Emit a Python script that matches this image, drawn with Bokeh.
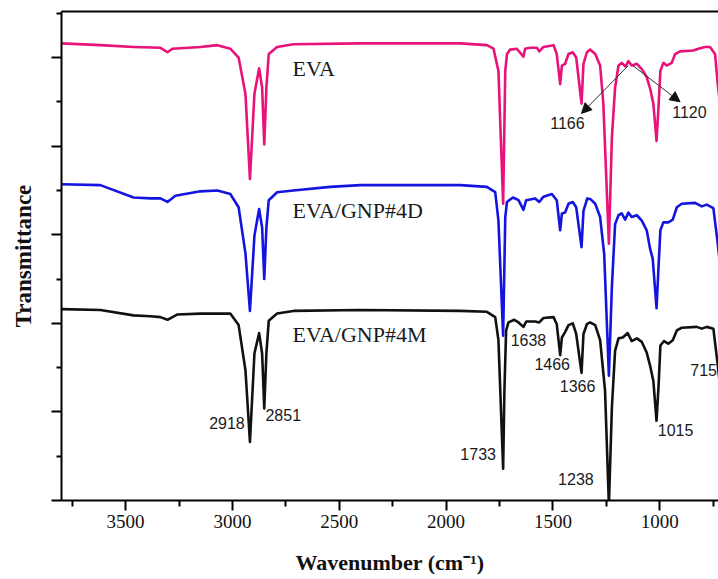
from bokeh.plotting import figure
from bokeh.models import (Range1d, FixedTicker, LinearAxis, Arrow,
                          NormalHead, ColumnDataSource)
from bokeh.core.properties import value
from bokeh.embed import file_html
from bokeh.resources import INLINE

# FTIR spectra (wavenumber in cm^-1, transmittance in offset arbitrary units)
wn_eva = [3800, 3618, 3463, 3337, 3304, 3281, 3150, 3070, 3010, 2971, 2939, 2918, 2897, 2875,
          2861, 2851, 2841, 2830, 2791, 2715, 2402, 1934, 1809, 1778, 1755, 1733, 1723, 1715,
          1700, 1669, 1638, 1630, 1607, 1575, 1564, 1544, 1497, 1482, 1466, 1458, 1443, 1427,
          1407, 1391, 1366, 1357, 1341, 1326, 1302, 1279, 1264, 1238, 1224, 1209, 1193, 1178,
          1160, 1147, 1131, 1107, 1084, 1061, 1045, 1030, 1015, 1005, 997, 983, 967, 944, 928,
          905, 843, 819, 788, 765, 741, 730, 715]
t_eva = [5.16, 5.14, 5.12, 5.11, 5.06, 5.10, 5.12, 5.14, 5.10, 5.00, 4.59, 3.63, 4.59, 4.88,
         4.66, 4.02, 4.66, 5.04, 5.12, 5.15, 5.16, 5.16, 5.14, 5.10, 4.85, 3.35, 4.85, 5.04,
         5.09, 5.10, 5.01, 5.10, 5.11, 5.11, 5.07, 5.12, 5.14, 5.04, 4.70, 4.91, 4.93, 5.04,
         5.06, 5.00, 4.48, 4.93, 5.06, 5.09, 5.04, 4.91, 4.48, 2.90, 4.10, 4.66, 4.91, 4.94,
         4.90, 4.96, 4.91, 4.93, 4.87, 4.78, 4.65, 4.48, 4.06, 4.48, 4.85, 4.94, 4.91, 4.94, 5.04,
         5.07, 5.08, 5.10, 5.12, 5.12, 5.04, 4.74, 4.40]

wn_4d = [3800, 3618, 3463, 3384, 3337, 3304, 3267, 3150, 3070, 3010, 2971, 2939, 2918, 2897,
         2875, 2861, 2851, 2841, 2830, 2791, 2715, 2542, 2402, 1934, 1809, 1770, 1755, 1733,
         1723, 1715, 1687, 1661, 1638, 1625, 1583, 1564, 1544, 1505, 1482, 1466, 1458, 1443,
         1427, 1407, 1391, 1366, 1357, 1339, 1323, 1302, 1279, 1260, 1238, 1224, 1209, 1193,
         1178, 1162, 1147, 1131, 1107, 1084, 1061, 1045, 1033, 1015, 1005, 997, 983, 960, 939,
         920, 897, 835, 803, 780, 749, 730, 715]
t_4d = [3.57, 3.56, 3.42, 3.41, 3.41, 3.37, 3.44, 3.49, 3.50, 3.46, 3.31, 2.79, 2.14, 2.99,
        3.29, 3.08, 2.50, 3.08, 3.39, 3.48, 3.50, 3.54, 3.56, 3.56, 3.54, 3.48, 3.16, 1.86,
        3.20, 3.37, 3.42, 3.39, 3.28, 3.39, 3.41, 3.37, 3.43, 3.46, 3.39, 3.05, 3.24, 3.25,
        3.35, 3.37, 3.31, 2.86, 3.27, 3.41, 3.40, 3.35, 3.20, 2.78, 1.41, 2.41, 3.12, 3.22,
        3.24, 3.17, 3.25, 3.20, 3.22, 3.16, 3.05, 2.84, 2.73, 2.17, 2.67, 3.05, 3.14, 3.14, 3.17,
        3.31, 3.35, 3.36, 3.32, 3.34, 3.30, 2.93, 2.60]

wn_4m = [3800, 3618, 3463, 3384, 3337, 3304, 3257, 3150, 3010, 2971, 2939, 2918, 2897, 2875,
         2861, 2851, 2841, 2830, 2791, 2715, 2402, 1934, 1809, 1770, 1755, 1733, 1727, 1719,
         1708, 1681, 1661, 1638, 1625, 1583, 1564, 1544, 1497, 1482, 1466, 1458, 1443, 1427,
         1407, 1391, 1366, 1357, 1341, 1326, 1302, 1279, 1256, 1238, 1224, 1209, 1193, 1173,
         1150, 1131, 1107, 1084, 1061, 1045, 1030, 1015, 1005, 997, 980, 960, 939, 920, 897,
         827, 803, 780, 749, 730, 715]
t_4m = [2.16, 2.15, 2.09, 2.08, 2.07, 2.04, 2.10, 2.11, 2.11, 1.98, 1.47, 0.66, 1.66, 1.89,
        1.66, 1.04, 1.66, 2.03, 2.11, 2.14, 2.15, 2.14, 2.13, 2.07, 1.81, 0.36, 1.24, 1.92,
        2.01, 2.04, 2.01, 1.96, 2.02, 2.02, 2.01, 2.06, 2.07, 1.99, 1.64, 1.84, 1.90, 1.98,
        2.00, 1.88, 1.44, 1.88, 1.99, 2.01, 1.98, 1.81, 1.24, -0.05, 1.05, 1.69, 1.83, 1.84,
        1.89, 1.80, 1.83, 1.79, 1.67, 1.52, 1.35, 0.90, 1.32, 1.75, 1.80, 1.77, 1.81, 1.92, 1.95,
        1.96, 1.94, 1.96, 1.94, 1.56, 1.24]

# band assignments marked on the EVA/GNP#4M trace
peak_wn = [2918, 2851, 1733, 1638, 1466, 1366, 1238, 1015, 715]
peak_label_y = [0.88, 0.96, 0.52, 1.81, 1.54, 1.29, 0.24, 0.80, 1.47]
peak_dx = [-23, 19, -25, 5, -8, -4, -33, 19, -17]

series_names = ["EVA", "EVA/GNP#4D", "EVA/GNP#4M"]
series_label_y = [4.876, 3.27, 1.87]

x_major = [1000, 1500, 2000, 2500, 3000, 3500]
x_minor = [750, 1250, 1750, 2250, 2750, 3250, 3750]
y_major = [0, 1, 2, 3, 4, 5]
y_minor = [0.5, 1.5, 2.5, 3.5, 4.5, 5.5]

SERIF = "Liberation Serif"
SANS = "Liberation Sans"
INK = "#111111"

p = figure(width=718, height=579, output_backend="svg", toolbar_location=None,
           x_range=Range1d(3800, 725), y_range=Range1d(0, 5.52),
           min_border_left=61, min_border_right=0, min_border_top=11,
           min_border_bottom=79)
p.outline_line_color = None
p.grid.visible = False
p.background_fill_color = "white"
p.border_fill_color = "white"

# spectra: bottom trace first so the upper ones overlap it
for xs, ys, col in [(wn_4m, t_4m, INK), (wn_4d, t_4d, "#1414e0"),
                    (wn_eva, t_eva, "#e8127a")]:
    p.line(xs, ys, line_color=col, line_width=2.6, line_join="round")

# axes
xa = p.xaxis[0]
xa.ticker = FixedTicker(ticks=x_major, minor_ticks=x_minor)
xa.axis_line_width = 2
xa.major_tick_line_width = 2
xa.minor_tick_line_width = 2
xa.major_tick_in = 0
xa.major_tick_out = 10
xa.minor_tick_in = 0
xa.minor_tick_out = 6
xa.major_label_text_font = SERIF
xa.major_label_text_font_size = "19px"
xa.major_label_text_color = INK
xa.major_label_standoff = 4
xa.axis_label = "Wavenumber (cm\u207b\u00b9)"
xa.axis_label_text_font = SERIF
xa.axis_label_text_font_style = "bold"
xa.axis_label_text_font_size = "22px"
xa.axis_label_text_color = INK
xa.axis_label_standoff = 19

ya = p.yaxis[0]
ya.ticker = FixedTicker(ticks=y_major, minor_ticks=y_minor)
ya.axis_line_width = 2
ya.major_tick_line_width = 2
ya.minor_tick_line_width = 2
ya.major_tick_in = 0
ya.major_tick_out = 10
ya.minor_tick_in = 0
ya.minor_tick_out = 5
ya.major_label_overrides = {t: "" for t in y_major}
ya.major_label_standoff = 0
ya.axis_label = "Transmittance"
ya.axis_label_text_font = SERIF
ya.axis_label_text_font_style = "bold"
ya.axis_label_text_font_size = "23px"
ya.axis_label_text_color = INK
ya.axis_label_standoff = 16

top = LinearAxis(ticker=FixedTicker(ticks=[]), axis_line_width=2,
                 major_label_standoff=0, major_tick_out=0, minor_tick_out=0)
p.add_layout(top, "above")

# series names
names_src = ColumnDataSource(dict(x=[2719] * 3, y=series_label_y, text=series_names))
p.text(x="x", y="y", text="text", source=names_src, text_font=value(SERIF),
       text_font_size="22px", text_color="#1a1a1a", text_align="left",
       text_baseline="alphabetic")

# band labels
peaks_src = ColumnDataSource(dict(x=peak_wn, y=peak_label_y, dx=peak_dx,
                                  text=[str(v) for v in peak_wn]))
p.text(x="x", y="y", text="text", x_offset="dx", source=peaks_src, text_font=value(SANS),
       text_font_size="16px", text_color="#1a1a1a", text_align="center",
       text_baseline="middle")

# shoulders at 1166 and 1120 on the EVA trace
p.add_layout(Arrow(end=NormalHead(size=10, fill_color=INK, line_color=INK),
                   x_start=1147, y_start=4.91, x_end=1366, y_end=4.37,
                   line_color="#333333", line_width=1))
p.add_layout(Arrow(end=NormalHead(size=10, fill_color=INK, line_color=INK),
                   x_start=1126, y_start=4.91, x_end=905, y_end=4.50,
                   line_color="#333333", line_width=1))
arrow_src = ColumnDataSource(dict(x=[1432, 861], y=[4.26, 4.385], text=["1166", "1120"]))
p.text(x="x", y="y", text="text", source=arrow_src, text_font=value(SANS),
       text_font_size="16px", text_color="#1a1a1a", text_align="center",
       text_baseline="middle")

open("out.html", "w").write(file_html(p, INLINE))
